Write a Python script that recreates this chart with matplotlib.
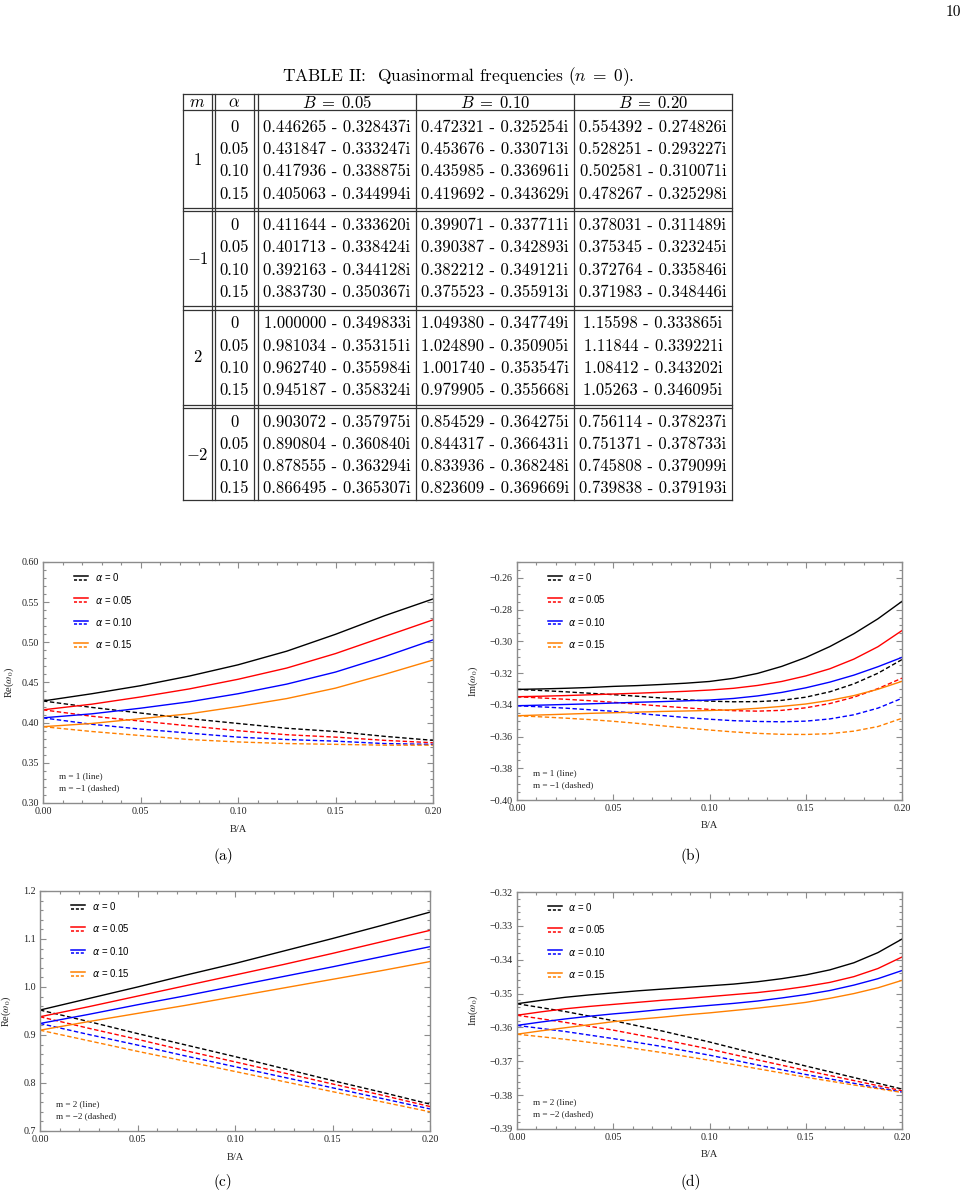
import matplotlib
matplotlib.use('Agg')
import matplotlib.pyplot as plt
from matplotlib.lines import Line2D
from matplotlib.legend_handler import HandlerBase
from matplotlib.ticker import MultipleLocator, FuncFormatter

plt.rcParams['mathtext.fontset'] = 'stix'

# ---- table data ----
m_labels = ['$1$', '$-1$', '$2$', '$-2$']
alpha_labels = ['0', '0.05', '0.10', '0.15']
b_headers = [r'$B\;=\;0.05$', r'$B\;=\;0.10$', r'$B\;=\;0.20$']
qnm_m1 = [['0.446265 - 0.328437i', '0.472321 - 0.325254i', '0.554392 - 0.274826i'],
          ['0.431847 - 0.333247i', '0.453676 - 0.330713i', '0.528251 - 0.293227i'],
          ['0.417936 - 0.338875i', '0.435985 - 0.336961i', '0.502581 - 0.310071i'],
          ['0.405063 - 0.344994i', '0.419692 - 0.343629i', '0.478267 - 0.325298i']]
qnm_mm1 = [['0.411644 - 0.333620i', '0.399071 - 0.337711i', '0.378031 - 0.311489i'],
           ['0.401713 - 0.338424i', '0.390387 - 0.342893i', '0.375345 - 0.323245i'],
           ['0.392163 - 0.344128i', '0.382212 - 0.349121i', '0.372764 - 0.335846i'],
           ['0.383730 - 0.350367i', '0.375523 - 0.355913i', '0.371983 - 0.348446i']]
qnm_m2 = [['1.000000 - 0.349833i', '1.049380 - 0.347749i', '1.15598 - 0.333865i'],
          ['0.981034 - 0.353151i', '1.024890 - 0.350905i', '1.11844 - 0.339221i'],
          ['0.962740 - 0.355984i', '1.001740 - 0.353547i', '1.08412 - 0.343202i'],
          ['0.945187 - 0.358324i', '0.979905 - 0.355668i', '1.05263 - 0.346095i']]
qnm_mm2 = [['0.903072 - 0.357975i', '0.854529 - 0.364275i', '0.756114 - 0.378237i'],
           ['0.890804 - 0.360840i', '0.844317 - 0.366431i', '0.751371 - 0.378733i'],
           ['0.878555 - 0.363294i', '0.833936 - 0.368248i', '0.745808 - 0.379099i'],
           ['0.866495 - 0.365307i', '0.823609 - 0.369669i', '0.739838 - 0.379193i']]
qnm_groups = [qnm_m1, qnm_mm1, qnm_m2, qnm_mm2]

# ---- curve data (B/A on x) ----
b_grid = [0.0, 0.025, 0.05, 0.075, 0.10, 0.125, 0.15, 0.175, 0.20]
b_fine = [0.0, 0.0125, 0.025, 0.0375, 0.05, 0.0625, 0.075, 0.0875, 0.10,
          0.1125, 0.125, 0.1375, 0.15, 0.1625, 0.175, 0.1875, 0.20]
alphas = ['0', '0.05', '0.10', '0.15']
colors = ['black', 'red', 'blue', '#ff8000']

# (a) Re, m = 1 / m = -1   (on b_grid)
re_m1 = [[0.427, 0.436, 0.446, 0.458, 0.472, 0.489, 0.510, 0.533, 0.554],
         [0.416, 0.423, 0.432, 0.442, 0.454, 0.468, 0.486, 0.507, 0.528],
         [0.406, 0.411, 0.418, 0.426, 0.436, 0.448, 0.463, 0.482, 0.503],
         [0.395, 0.399, 0.405, 0.411, 0.420, 0.430, 0.443, 0.460, 0.478]]
re_mm1 = [[0.427, 0.419, 0.412, 0.405, 0.399, 0.393, 0.389, 0.383, 0.378],
          [0.416, 0.408, 0.402, 0.396, 0.390, 0.385, 0.382, 0.378, 0.375],
          [0.406, 0.398, 0.392, 0.387, 0.382, 0.379, 0.377, 0.374, 0.373],
          [0.395, 0.389, 0.384, 0.379, 0.376, 0.374, 0.373, 0.372, 0.372]]
# (b) Im, m = 1 / m = -1   (on b_fine)
im_m1 = [[-0.3303, -0.3300, -0.3296, -0.3291, -0.3284, -0.3279, -0.3272, -0.3264, -0.3253,
          -0.3233, -0.3202, -0.3158, -0.3102, -0.3033, -0.2952, -0.2858, -0.2748],
         [-0.3349, -0.3346, -0.3342, -0.3337, -0.3332, -0.3327, -0.3321, -0.3315, -0.3307,
          -0.3296, -0.3278, -0.3253, -0.3218, -0.3173, -0.3112, -0.3034, -0.2932],
         [-0.3406, -0.3402, -0.3398, -0.3394, -0.3389, -0.3384, -0.3380, -0.3375, -0.3370,
          -0.3360, -0.3344, -0.3322, -0.3293, -0.3257, -0.3213, -0.3160, -0.3101],
         [-0.3469, -0.3464, -0.3459, -0.3454, -0.3450, -0.3446, -0.3442, -0.3439, -0.3436,
          -0.3431, -0.3422, -0.3410, -0.3395, -0.3372, -0.3342, -0.3302, -0.3252]]
im_mm1 = [[-0.3303, -0.3310, -0.3318, -0.3327, -0.3336, -0.3346, -0.3357, -0.3368, -0.3377,
           -0.3381, -0.3380, -0.3372, -0.3352, -0.3318, -0.3268, -0.3201, -0.3115],
          [-0.3349, -0.3357, -0.3365, -0.3374, -0.3384, -0.3396, -0.3408, -0.3419, -0.3429,
           -0.3437, -0.3440, -0.3435, -0.3419, -0.3392, -0.3352, -0.3298, -0.3232],
          [-0.3406, -0.3413, -0.3421, -0.3431, -0.3441, -0.3454, -0.3467, -0.3480, -0.3491,
           -0.3500, -0.3505, -0.3507, -0.3503, -0.3489, -0.3463, -0.3421, -0.3359],
          [-0.3469, -0.3476, -0.3484, -0.3493, -0.3504, -0.3517, -0.3532, -0.3546, -0.3559,
           -0.3571, -0.3580, -0.3586, -0.3587, -0.3582, -0.3566, -0.3537, -0.3485]]
# (c) Re, m = 2 / m = -2   (on b_grid)
re_m2 = [[0.952, 0.976, 1.000, 1.025, 1.049, 1.075, 1.101, 1.128, 1.156],
         [0.938, 0.959, 0.981, 1.003, 1.025, 1.047, 1.070, 1.094, 1.118],
         [0.924, 0.943, 0.963, 0.982, 1.002, 1.022, 1.042, 1.063, 1.084],
         [0.910, 0.928, 0.945, 0.962, 0.980, 0.998, 1.016, 1.034, 1.053]]
re_mm2 = [[0.952, 0.928, 0.903, 0.879, 0.855, 0.830, 0.805, 0.781, 0.756],
          [0.938, 0.914, 0.891, 0.867, 0.844, 0.821, 0.798, 0.775, 0.751],
          [0.924, 0.901, 0.879, 0.856, 0.834, 0.812, 0.790, 0.768, 0.746],
          [0.910, 0.888, 0.866, 0.845, 0.824, 0.803, 0.782, 0.761, 0.740]]
# (d) Im, m = 2 (on b_fine) / m = -2 (on b_grid)
im_m2 = [[-0.3530, -0.3520, -0.3511, -0.3504, -0.3498, -0.3492, -0.3487, -0.3482, -0.3477,
          -0.3472, -0.3465, -0.3456, -0.3445, -0.3430, -0.3409, -0.3379, -0.3339],
         [-0.3564, -0.3554, -0.3545, -0.3538, -0.3532, -0.3526, -0.3520, -0.3515, -0.3509,
          -0.3503, -0.3497, -0.3489, -0.3479, -0.3467, -0.3450, -0.3426, -0.3392],
         [-0.3594, -0.3584, -0.3575, -0.3567, -0.3560, -0.3554, -0.3547, -0.3541, -0.3535,
          -0.3529, -0.3522, -0.3513, -0.3503, -0.3491, -0.3475, -0.3456, -0.3432],
         [-0.3620, -0.3610, -0.3601, -0.3592, -0.3583, -0.3576, -0.3570, -0.3563, -0.3557,
          -0.3550, -0.3543, -0.3535, -0.3526, -0.3514, -0.3500, -0.3483, -0.3461]]
im_mm2 = [[-0.3530, -0.3553, -0.3580, -0.3610, -0.3643, -0.3679, -0.3714, -0.3748, -0.3782],
          [-0.3564, -0.3585, -0.3608, -0.3635, -0.3664, -0.3696, -0.3727, -0.3757, -0.3787],
          [-0.3594, -0.3612, -0.3633, -0.3656, -0.3682, -0.3711, -0.3739, -0.3765, -0.3791],
          [-0.3620, -0.3635, -0.3653, -0.3674, -0.3697, -0.3722, -0.3747, -0.3770, -0.3792]]

W, H = 971, 1196
fig = plt.figure(figsize=(W / 100, H / 100), dpi=100)

# page layer in pixel coordinates (table, captions, page number)
page = fig.add_axes([0, 0, 1, 1], zorder=-1)
page.set_xlim(0, W)
page.set_ylim(H, 0)
page.axis('off')

cm = dict(family=['cmr10', 'DejaVu Serif'], math_fontfamily='cm')
page.text(953, 12, '10', ha='center', va='center', fontsize=11, **cm)
page.text(458, 77, r'TABLE II:  Quasinormal frequencies ($n\;=\;0$).',
          ha='center', va='center', fontsize=12.5, **cm)

# table grid
xs = [183, 212, 215, 254, 258, 416, 574, 732]
top, head_bot = 94, 110
row_h = 22.3
first_row = [127, 225.3, 323.6, 421.9]
tc = '#333333'
lw = 0.9
t_bottom = first_row[-1] + 3 * row_h + 11.5
for x in xs:
    page.plot([x, x], [top, t_bottom], color=tc, lw=lw)
page.plot([xs[0], xs[-1]], [top, top], color=tc, lw=lw)
page.plot([xs[0], xs[-1]], [head_bot, head_bot], color=tc, lw=lw)
page.plot([xs[0], xs[-1]], [t_bottom, t_bottom], color=tc, lw=lw)
for g in range(1, 4):
    mid = (first_row[g - 1] + 3 * row_h + first_row[g]) / 2
    for dy in (-1.6, 1.6):
        page.plot([xs[0], xs[-1]], [mid + dy, mid + dy], color=tc, lw=lw)

col_c = [(xs[0] + xs[1]) / 2, (xs[2] + xs[3]) / 2, (xs[4] + xs[5]) / 2,
         (xs[5] + xs[6]) / 2, (xs[6] + xs[7]) / 2]
fs_tab = 12
hy = (top + head_bot) / 2 + 0.5
page.text(col_c[0], hy, '$m$', ha='center', va='center', fontsize=fs_tab, **cm)
page.text(col_c[1], hy, r'$\alpha$', ha='center', va='center', fontsize=fs_tab, **cm)
for j, hdr in enumerate(b_headers):
    page.text(col_c[2 + j], hy, hdr, ha='center', va='center', fontsize=fs_tab, **cm)

for g, rows in enumerate(qnm_groups):
    y0 = first_row[g]
    page.text(col_c[0], y0 + 1.5 * row_h, m_labels[g], ha='center', va='center',
              fontsize=fs_tab, **cm)
    for r, vals in enumerate(rows):
        y = y0 + r * row_h
        page.text(col_c[1], y, alpha_labels[r], ha='center', va='center',
                  fontsize=fs_tab, **cm)
        for j, v in enumerate(vals):
            page.text(col_c[2 + j], y, v, ha='center', va='center',
                      fontsize=fs_tab, **cm)


# legend handle: solid line above a dashed line
class SolidDashed(HandlerBase):
    def create_artists(self, legend, orig, xd, yd, w, h, fs, trans):
        c = orig.get_color()
        x = [-xd, -xd + w]
        y1 = -yd + h * 0.78
        y2 = -yd + h * 0.22
        a = Line2D(x, [y1, y1], color=c, lw=1.1, transform=trans)
        b = Line2D(x, [y2, y2], color=c, lw=1.1, ls=(0, (2.0, 1.2)), transform=trans)
        return [a, b]


def fmt(dec):
    return FuncFormatter(lambda v, p: f'{v:.{dec}f}'.replace('-', '\u2212'))


panels = [
    # rect in px (left, top, right, bottom), x/solid, x/dashed, ylim, ticks, ylabel, notes, caption
    ((43, 562, 433, 803), b_grid, re_m1, b_grid, re_mm1, (0.30, 0.60), 0.05, 0.01, 2, 'Re',
     ('m = 1 (line)', 'm = \u22121 (dashed)'), '(a)', 223, 856),
    ((517, 562, 902, 800), b_fine, im_m1, b_fine, im_mm1, (-0.40, -0.25), 0.02, 0.005, 2, 'Im',
     ('m = 1 (line)', 'm = \u22121 (dashed)'), '(b)', 691, 856),
    ((40, 891, 430, 1131), b_grid, re_m2, b_grid, re_mm2, (0.7, 1.2), 0.1, 0.02, 1, 'Re',
     ('m = 2 (line)', 'm = \u22122 (dashed)'), '(c)', 223, 1182),
    ((517, 892, 902, 1129), b_fine, im_m2, b_grid, im_mm2, (-0.39, -0.32), 0.01, 0.002, 2, 'Im',
     ('m = 2 (line)', 'm = \u22122 (dashed)'), '(d)', 691, 1182),
]

serif = ['Liberation Serif', 'DejaVu Serif']
frame = '#8c8c8c'

for (rect, xs_s, solid, xs_d, dashed, ylim, major, minor, dec, part, notes,
     cap, cx, cy) in panels:
    l, t, r, b = rect
    ax = fig.add_axes([l / W, 1 - b / H, (r - l) / W, (b - t) / H])
    handles = []
    for i in range(4):
        h, = ax.plot(xs_s, solid[i], color=colors[i], lw=1.0)
        ax.plot(xs_d, dashed[i], color=colors[i], lw=1.0, ls=(0, (3.2, 1.8)))
        handles.append(h)
    ax.set_xlim(0, 0.2)
    ax.set_ylim(*ylim)
    ax.xaxis.set_major_locator(MultipleLocator(0.05))
    ax.xaxis.set_minor_locator(MultipleLocator(0.01))
    ax.yaxis.set_major_locator(MultipleLocator(major))
    ax.yaxis.set_minor_locator(MultipleLocator(minor))
    ax.xaxis.set_major_formatter(fmt(2))
    ax.yaxis.set_major_formatter(fmt(dec))
    ax.tick_params(which='both', direction='in', top=True, right=True,
                   color=frame, width=0.8, labelsize=7.2, labelcolor='#222222', pad=3)
    ax.tick_params(which='major', length=4)
    ax.tick_params(which='minor', length=2.2)
    for lab in ax.get_xticklabels() + ax.get_yticklabels():
        lab.set_family(serif)
    for s in ax.spines.values():
        s.set_color(frame)
        s.set_linewidth(1.0)

    ax.set_xlabel('B/A', family=serif, fontsize=7.5, color='#222222')
    ax.xaxis.set_label_coords(0.5, -0.09)
    ax.set_ylabel(part + r'($\omega_0$)', family=serif, fontsize=7.5, color='#222222')
    ax.yaxis.set_label_coords(-0.068 if part == 'Re' else -0.095, 0.5)

    leg = ax.legend(handles, [r'$\alpha$ = ' + a for a in alphas],
                    handler_map={Line2D: SolidDashed()},
                    loc='upper left', bbox_to_anchor=(0.08, 0.962), borderaxespad=0,
                    borderpad=0, frameon=False,
                    prop={'family': 'Liberation Sans', 'size': 6.9},
                    labelspacing=1.08, handlelength=1.45, handletextpad=0.7)
    for txt in leg.get_texts():
        txt.set_math_fontfamily('dejavusans')

    ax.text(0.041, 0.112, notes[0], transform=ax.transAxes, family=serif,
            fontsize=6.6, va='center', color='#222222')
    ax.text(0.041, 0.062, notes[1], transform=ax.transAxes, family=serif,
            fontsize=6.6, va='center', color='#222222')

    page.text(cx, cy, cap, ha='center', va='center', fontsize=11, **cm)

fig.savefig('out.png', dpi=100)
